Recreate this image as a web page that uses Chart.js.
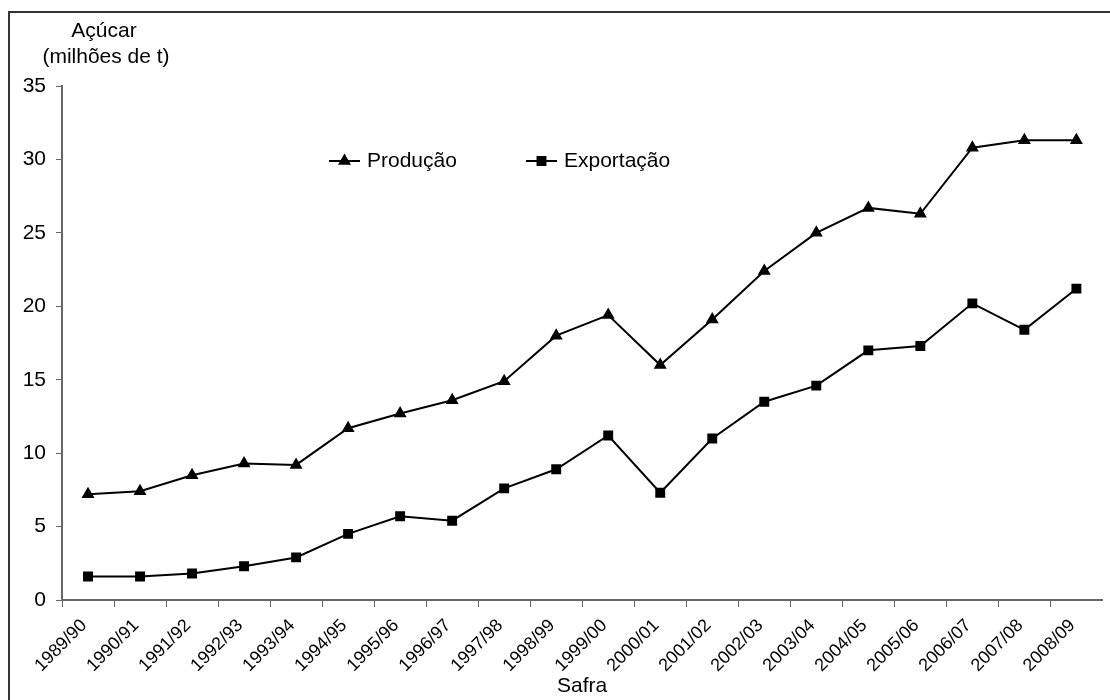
<!DOCTYPE html>
<html>
<head>
<meta charset="utf-8">
<script src="https://cdn.jsdelivr.net/npm/chart.js@4/dist/chart.umd.min.js"></script>
<style>
  body { margin: 0; overflow: hidden; background: #fff; }
  #wrap { position: relative; width: 1110px; height: 700px; }
  #frame { position: absolute; left: 8px; top: 11px; width: 2000px; height: 2000px;
           border-left: 2px solid #333; border-top: 2px solid #333; pointer-events: none; }
</style>
</head>
<body>
<div id="wrap">
  <canvas id="sugarChart" width="1110" height="700"></canvas>
  <div id="frame"></div>
</div>
<script>
const safras = [
  "1989/90", "1990/91", "1991/92", "1992/93", "1993/94", "1994/95", "1995/96",
  "1996/97", "1997/98", "1998/99", "1999/00", "2000/01", "2001/02", "2002/03",
  "2003/04", "2004/05", "2005/06", "2006/07", "2007/08", "2008/09",
];
const producao = [
  7.2, 7.4, 8.5, 9.3, 9.2, 11.7, 12.7, 13.6, 14.9, 18.0,
  19.4, 16.0, 19.1, 22.4, 25.0, 26.7, 26.3, 30.8, 31.3, 31.3,
];
const exportacao = [
  1.6, 1.6, 1.8, 2.3, 2.9, 4.5, 5.7, 5.4, 7.6, 8.9,
  11.2, 7.3, 11.0, 13.5, 14.6, 17.0, 17.3, 20.2, 18.4, 21.2,
];
const yTicks = [0, 5, 10, 15, 20, 25, 30, 35];

const FONT = "Arial, 'Liberation Sans', sans-serif";
Chart.defaults.font.family = FONT;
Chart.defaults.font.size = 21;
Chart.defaults.color = "#000";

// título do eixo Y e legenda desenhados à mão (ficam dentro da área)
const extras = {
  id: "extras",
  afterDraw(chart) {
    const ctx = chart.ctx;
    const area = chart.chartArea;
    ctx.save();
    ctx.fillStyle = "#000";
    ctx.font = "21px " + FONT;
    ctx.textAlign = "center";
    ctx.textBaseline = "middle";
    ctx.fillText("Açúcar", area.left + 42, 31);
    ctx.fillText("(milhões de t)", area.left + 44, 57);

    const items = [
      { x: area.left + 267, ds: chart.data.datasets[0] },
      { x: area.left + 464, ds: chart.data.datasets[1] },
    ];
    const ly = 161;
    items.forEach((it) => {
      ctx.strokeStyle = "#000";
      ctx.lineWidth = 2;
      ctx.beginPath();
      ctx.moveTo(it.x, ly);
      ctx.lineTo(it.x + 31, ly);
      ctx.stroke();
      Chart.helpers.drawPoint(ctx, {
        pointStyle: it.ds.pointStyle,
        radius: it.ds.pointRadius,
        borderWidth: 1,
      }, it.x + 15.5, ly);
      ctx.fillStyle = "#000";
      ctx.textAlign = "left";
      ctx.fillText(it.ds.label, it.x + 38, ly);
    });
    ctx.restore();
  },
};

const ctx = document.getElementById("sugarChart").getContext("2d");
new Chart(ctx, {
  type: "line",
  data: {
    labels: safras,
    datasets: [
      {
        label: "Produção",
        data: producao,
        borderColor: "#000",
        backgroundColor: "#000",
        borderWidth: 2,
        pointStyle: "triangle",
        pointRadius: 5.5,
        pointBackgroundColor: "#000",
        pointBorderColor: "#000",
        tension: 0,
      },
      {
        label: "Exportação",
        data: exportacao,
        borderColor: "#000",
        backgroundColor: "#000",
        borderWidth: 2,
        pointStyle: "rect",
        pointRadius: 5.6,
        pointBackgroundColor: "#000",
        pointBorderColor: "#000",
        tension: 0,
      },
    ],
  },
  options: {
    responsive: false,
    animation: false,
    layout: { padding: { top: 86, right: 3, left: 0, bottom: 0 } },
    plugins: {
      legend: { display: false },
      tooltip: { enabled: false },
    },
    scales: {
      x: {
        offset: true,
        grid: {
          offset: true,
          drawOnChartArea: false,
          tickLength: 7,
          // sem risco no fim do eixo
          color: (c) => (c.type === "tick" ? "#666" : "rgba(0,0,0,0)"),
        },
        border: { color: "#666", width: 2 },
        ticks: {
          font: { size: 18 },
          minRotation: 45,
          maxRotation: 45,
          padding: 8,
          labelOffset: -4,
          autoSkip: false,
        },
        title: { display: true, text: "Safra", padding: { top: 0, bottom: 1 } },
        afterFit(axis) { axis.height = 100; },
      },
      y: {
        min: 0,
        max: 35,
        afterBuildTicks(axis) { axis.ticks = yTicks.map((v) => ({ value: v })); },
        grid: { drawOnChartArea: false, tickLength: 6, color: "#666" },
        border: { color: "#666", width: 2 },
        ticks: { padding: 10 },
        afterFit(axis) { axis.width = 62; },
      },
    },
  },
  plugins: [extras],
});
</script>
</body>
</html>
